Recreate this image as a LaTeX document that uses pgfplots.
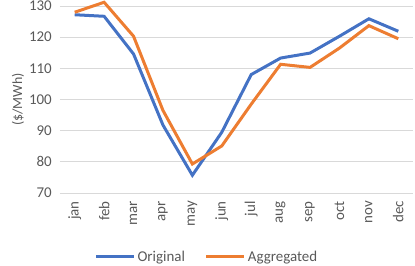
\documentclass[border=0pt]{standalone}
\usepackage{pgfplots}
\pgfplotsset{compat=1.18}
\usepackage{fontspec}
\setmainfont{Carlito}
\definecolor{cblue}{HTML}{4472C4}
\definecolor{corange}{HTML}{ED7D31}
\definecolor{tgray}{HTML}{595959}
\definecolor{ggray}{HTML}{D9D9D9}
\begin{document}
\begin{tikzpicture}[x=1bp,y=1bp]
\useasboundingbox (0,0) rectangle (415bp,266bp);
\begin{axis}[
  at={(60bp,73bp)}, anchor=south west,
  scale only axis, width=353bp, height=187bp,
  xmin=-0.5, xmax=11.5, ymin=70, ymax=130,
  ytick={70,80,...,130},
  xtick={0,...,11},
  xticklabels={jan,feb,mar,apr,may,jun,jul,aug,sep,oct,nov,dec},
  x tick label style={rotate=90, anchor=east, inner sep=0pt, xshift=-8bp, font=\fontsize{15}{17}\selectfont, text=tgray},
  y tick label style={anchor=east, inner sep=0pt, xshift=-8bp, font=\fontsize{15}{17}\selectfont, text=tgray},
  /pgf/number format/assume math mode=true,
  axis line style={draw=none},
  major tick length=0pt,
  ymajorgrids, grid style={ggray, line width=1bp},
  ylabel={(\$/MWh)},
  every axis y label/.style={at={(axis description cs:-0.119,0.5)}, rotate=90, anchor=center, font=\fontsize{14}{16}\selectfont, text=tgray},
  legend style={at={(0.416,-0.342)}, anchor=center, draw=none, fill=none, legend columns=2,
    font=\fontsize{15}{17}\selectfont, text=tgray, inner sep=0pt,
    /tikz/every odd column/.append style={column sep=0bp},
    /tikz/every even column/.append style={column sep=18bp}},
  legend image code/.code={\draw[#1, line width=3bp] (0bp,0bp) -- (38bp,0bp);},
  clip=false,
]
\addplot[cblue, line width=3bp] coordinates {
(0,127.2)(1,126.7)(2,114.6)(3,91.8)(4,75.7)(5,89.5)(6,108)(7,113.3)(8,114.9)(9,120.3)(10,125.9)(11,121.9)};
\addlegendentry{Original}
\addplot[corange, line width=3bp] coordinates {
(0,128)(1,131.2)(2,120.3)(3,96.5)(4,79.3)(5,85.1)(6,98.5)(7,111.3)(8,110.3)(9,116.5)(10,123.7)(11,119.5)};
\addlegendentry{Aggregated}
\end{axis}
\end{tikzpicture}
\end{document}
